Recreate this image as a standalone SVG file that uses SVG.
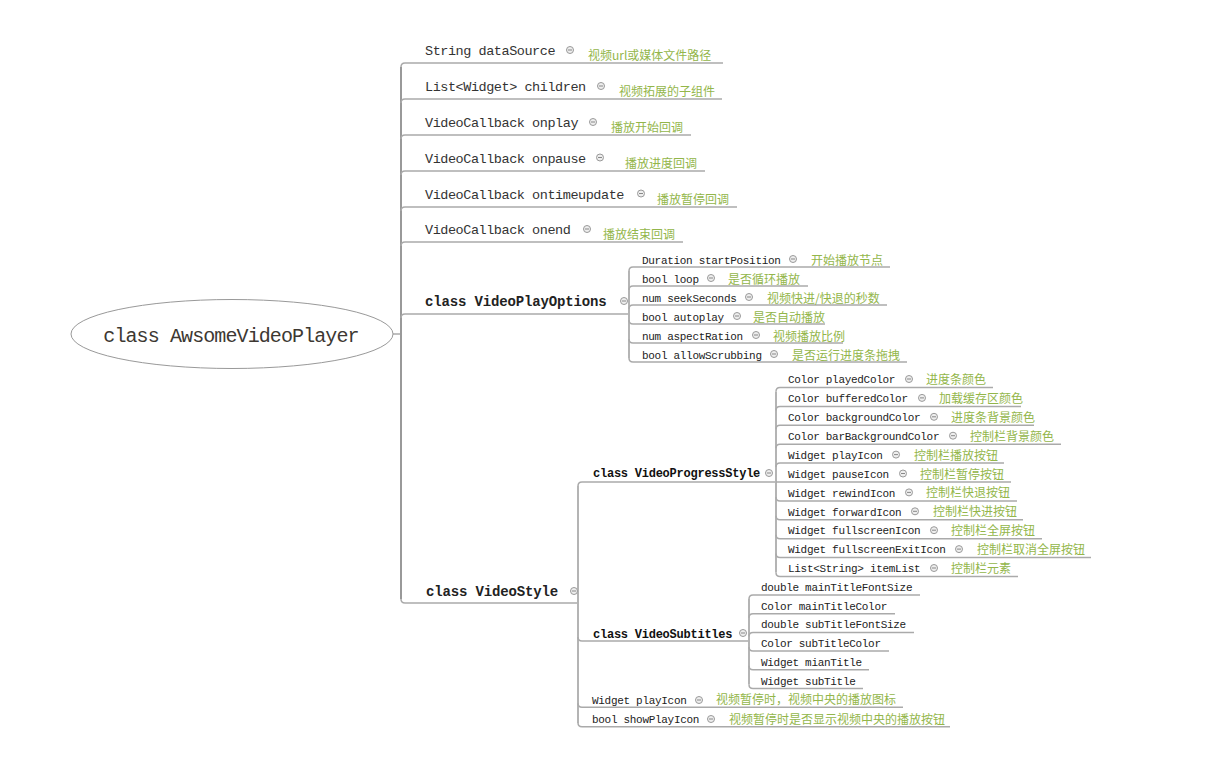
<svg xmlns="http://www.w3.org/2000/svg" xmlns:xlink="http://www.w3.org/1999/xlink" width="1217" height="763" viewBox="0 0 1217 763">
<style>
.t1{font-family:"Liberation Mono",monospace;font-size:13.5px;letter-spacing:-0.45px;fill:#333}
.tb{font-family:"Liberation Mono",monospace;font-size:14px;font-weight:bold;letter-spacing:-0.15px;fill:#222}
.tbs{font-family:"Liberation Mono",monospace;font-size:12px;font-weight:bold;letter-spacing:-0.24px;fill:#111}
.t2{font-family:"Liberation Mono",monospace;font-size:11px;letter-spacing:-0.3px;fill:#222}
.lb{font-family:"Noto Sans CJK SC","Noto Sans",sans-serif;font-size:12px;fill:#93b64a}
.root{font-family:"Liberation Mono",monospace;font-size:20px;letter-spacing:-0.9px;fill:#3d3832}
.ln{fill:none;stroke:#aaa;stroke-width:1.5}
.tr{fill:none;stroke:#999;stroke-width:2}
.st{fill:none;stroke:#b4b4b4;stroke-width:2}
</style>
<defs>
<g id="ic"><circle r="3.5" fill="#eee" stroke="#999" stroke-width="1"/><path d="M-2 0H2" stroke="#888" stroke-width="1"/></g>
</defs>
<rect width="1217" height="763" fill="#fff"/>
<g id="connectors">
<path class="ln" d="M393 334H401"/>
<path class="tr" d="M401 67V599"/>
<path class="ln" d="M401 67Q401 63 405 63H723"/>
<path class="ln" d="M401 103Q401 99 405 99H722"/>
<path class="ln" d="M401 139Q401 135 405 135H691"/>
<path class="ln" d="M401 175Q401 171 405 171H705"/>
<path class="ln" d="M401 211Q401 207 405 207H737"/>
<path class="ln" d="M401 246Q401 242 405 242H683"/>
<path class="ln" d="M401 318Q401 314 405 314H629"/>
<path class="ln" d="M401 599Q401 603 405 603H578"/>
<path class="st" d="M629 271V358"/>
<path class="ln" d="M629 271Q629 267 633 267H890"/>
<path class="ln" d="M629 290Q629 286 633 286H808"/>
<path class="ln" d="M629 309Q629 305 633 305H887"/>
<path class="ln" d="M629 320Q629 324 633 324H825"/>
<path class="ln" d="M629 339Q629 343 633 343H843"/>
<path class="ln" d="M629 358Q629 362 633 362H907"/>
<path class="st" d="M578 486V723"/>
<path class="ln" d="M578 486Q578 482 582 482H776"/>
<path class="ln" d="M578 637Q578 641 582 641H749"/>
<path class="ln" d="M578 703.3Q578 707.3 582 707.3H903"/>
<path class="ln" d="M578 722.7Q578 726.7 582 726.7H950"/>
<path class="st" d="M776 391.5V572.5"/>
<path class="ln" d="M776 391.5Q776 387.5 780 387.5H993"/>
<path class="ln" d="M776 410.4Q776 406.4 780 406.4H1021"/>
<path class="ln" d="M776 429.3Q776 425.3 780 425.3H1034"/>
<path class="ln" d="M776 448.2Q776 444.2 780 444.2H1061"/>
<path class="ln" d="M776 467.1Q776 463.1 780 463.1H1004"/>
<path class="ln" d="M776 482H1011"/>
<path class="ln" d="M776 496.9Q776 500.9 780 500.9H1017"/>
<path class="ln" d="M776 515.8Q776 519.8 780 519.8H1023"/>
<path class="ln" d="M776 534.7Q776 538.7 780 538.7H1042"/>
<path class="ln" d="M776 553.6Q776 557.6 780 557.6H1091"/>
<path class="ln" d="M776 572.5Q776 576.5 780 576.5H1018"/>
<path class="st" d="M749 599V684.5"/>
<path class="ln" d="M749 599Q749 595 753 595H920"/>
<path class="ln" d="M749 617.7Q749 613.7 753 613.7H895"/>
<path class="ln" d="M749 636.4Q749 632.4 753 632.4H914"/>
<path class="ln" d="M749 647.1Q749 651.1 753 651.1H889"/>
<path class="ln" d="M749 665.8Q749 669.8 753 669.8H869"/>
<path class="ln" d="M749 684.5Q749 688.5 753 688.5H863"/>
</g>
<g id="root">
<ellipse cx="232" cy="334" rx="161" ry="34.5" fill="#fff" stroke="#999" stroke-width="1"/>
<text class="root" x="231" y="342" text-anchor="middle">class AwsomeVideoPlayer</text>
</g>
<g id="n-dataSource"><text class="t1" x="425" y="55">String dataSource</text><use href="#ic" x="570" y="50"/><text class="lb" x="588" y="59.5">视频url或媒体文件路径</text></g>
<g id="n-children"><text class="t1" x="425" y="91">List&lt;Widget&gt; children</text><use href="#ic" x="601" y="86"/><text class="lb" x="619" y="95.5">视频拓展的子组件</text></g>
<g id="n-onplay"><text class="t1" x="425" y="127">VideoCallback onplay</text><use href="#ic" x="593" y="122"/><text class="lb" x="611" y="131.5">播放开始回调</text></g>
<g id="n-onpause"><text class="t1" x="425" y="163">VideoCallback onpause</text><use href="#ic" x="600" y="157.5"/><text class="lb" x="625" y="167.5">播放进度回调</text></g>
<g id="n-ontimeupdate"><text class="t1" x="425" y="199">VideoCallback ontimeupdate</text><use href="#ic" x="641" y="193.5"/><text class="lb" x="657" y="203.5">播放暂停回调</text></g>
<g id="n-onend"><text class="t1" x="425" y="234">VideoCallback onend</text><use href="#ic" x="587" y="229"/><text class="lb" x="603" y="238.5">播放结束回调</text></g>
<g id="n-VideoPlayOptions"><text class="tb" x="425" y="306">class VideoPlayOptions</text><use href="#ic" x="624" y="301"/></g>
<g id="n-startPosition"><text class="t2" x="642" y="263.5">Duration startPosition</text><use href="#ic" x="793" y="259"/><text class="lb" x="811" y="264.5">开始播放节点</text></g>
<g id="n-loop"><text class="t2" x="642" y="282.5">bool loop</text><use href="#ic" x="711" y="278"/><text class="lb" x="728" y="283.5">是否循环播放</text></g>
<g id="n-seekSeconds"><text class="t2" x="642" y="301.5">num seekSeconds</text><use href="#ic" x="749" y="297"/><text class="lb" x="767" y="302.5">视频快进/快退的秒数</text></g>
<g id="n-autoplay"><text class="t2" x="642" y="320.5">bool autoplay</text><use href="#ic" x="737" y="316"/><text class="lb" x="753" y="321.5">是否自动播放</text></g>
<g id="n-aspectRation"><text class="t2" x="642" y="339.5">num aspectRation</text><use href="#ic" x="756" y="335"/><text class="lb" x="773" y="340.5">视频播放比例</text></g>
<g id="n-allowScrubbing"><text class="t2" x="642" y="358.5">bool allowScrubbing</text><use href="#ic" x="774" y="354"/><text class="lb" x="792" y="359.5">是否运行进度条拖拽</text></g>
<g id="n-VideoStyle"><text class="tb" x="426" y="596">class VideoStyle</text><use href="#ic" x="574" y="591"/></g>
<g id="n-VideoProgressStyle"><text class="tbs" x="593" y="476.5">class VideoProgressStyle</text><use href="#ic" x="769" y="473"/></g>
<g id="n-playedColor"><text class="t2" x="788" y="383.2">Color playedColor</text><use href="#ic" x="909" y="379"/><text class="lb" x="926" y="384">进度条颜色</text></g>
<g id="n-bufferedColor"><text class="t2" x="788" y="402.1">Color bufferedColor</text><use href="#ic" x="922" y="397.9"/><text class="lb" x="939" y="402.9">加载缓存区颜色</text></g>
<g id="n-backgroundColor"><text class="t2" x="788" y="421">Color backgroundColor</text><use href="#ic" x="934" y="416.8"/><text class="lb" x="951" y="421.8">进度条背景颜色</text></g>
<g id="n-barBackgroundColor"><text class="t2" x="788" y="439.9">Color barBackgroundColor</text><use href="#ic" x="953" y="435.7"/><text class="lb" x="970" y="440.7">控制栏背景颜色</text></g>
<g id="n-ps-playIcon"><text class="t2" x="788" y="458.8">Widget playIcon</text><use href="#ic" x="896" y="454.6"/><text class="lb" x="914" y="459.6">控制栏播放按钮</text></g>
<g id="n-pauseIcon"><text class="t2" x="788" y="477.7">Widget pauseIcon</text><use href="#ic" x="903" y="473.5"/><text class="lb" x="920" y="478.5">控制栏暂停按钮</text></g>
<g id="n-rewindIcon"><text class="t2" x="788" y="496.6">Widget rewindIcon</text><use href="#ic" x="909" y="492.4"/><text class="lb" x="926" y="497.4">控制栏快退按钮</text></g>
<g id="n-forwardIcon"><text class="t2" x="788" y="515.5">Widget forwardIcon</text><use href="#ic" x="915" y="511.3"/><text class="lb" x="933" y="516.3">控制栏快进按钮</text></g>
<g id="n-fullscreenIcon"><text class="t2" x="788" y="534.4">Widget fullscreenIcon</text><use href="#ic" x="934" y="530.2"/><text class="lb" x="951" y="535.2">控制栏全屏按钮</text></g>
<g id="n-fullscreenExitIcon"><text class="t2" x="788" y="553.3">Widget fullscreenExitIcon</text><use href="#ic" x="959" y="549.1"/><text class="lb" x="977" y="554.1">控制栏取消全屏按钮</text></g>
<g id="n-itemList"><text class="t2" x="788" y="572.2">List&lt;String&gt; itemList</text><use href="#ic" x="934" y="568"/><text class="lb" x="951" y="573">控制栏元素</text></g>
<g id="n-VideoSubtitles"><text class="tbs" x="593" y="637.5">class VideoSubtitles</text><use href="#ic" x="743" y="633"/></g>
<g id="n-mainTitleFontSize"><text class="t2" x="761" y="591">double mainTitleFontSize</text></g>
<g id="n-mainTitleColor"><text class="t2" x="761" y="609.7">Color mainTitleColor</text></g>
<g id="n-subTitleFontSize"><text class="t2" x="761" y="628.4">double subTitleFontSize</text></g>
<g id="n-subTitleColor"><text class="t2" x="761" y="647.1">Color subTitleColor</text></g>
<g id="n-mianTitle"><text class="t2" x="761" y="665.8">Widget mianTitle</text></g>
<g id="n-subTitle"><text class="t2" x="761" y="684.5">Widget subTitle</text></g>
<g id="n-vs-playIcon"><text class="t2" x="592" y="703.5">Widget playIcon</text><use href="#ic" x="699" y="700"/><text class="lb" x="716" y="704">视频暂停时，视频中央的播放图标</text></g>
<g id="n-showPlayIcon"><text class="t2" x="592" y="723">bool showPlayIcon</text><use href="#ic" x="711" y="719"/><text class="lb" x="729" y="723.5">视频暂停时是否显示视频中央的播放按钮</text></g>
</svg>
